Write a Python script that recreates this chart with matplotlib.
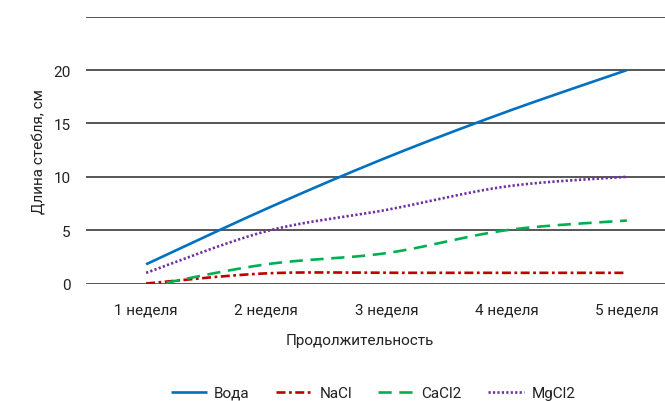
import numpy as np
import matplotlib
matplotlib.use("Agg")
import matplotlib.pyplot as plt
from matplotlib.lines import Line2D

plt.rcParams['font.family'] = ['Roboto', 'DejaVu Sans']
plt.rcParams['lines.scale_dashes'] = False

weeks = ["1 неделя", "2 неделя", "3 неделя", "4 неделя", "5 неделя"]
voda = [1.8, 7.0, 11.8, 16.1, 20.0]
nacl = [0.0, 0.95, 1.0, 1.0, 1.0]
cacl2 = [-0.3, 1.8, 2.85, 5.0, 5.9]
mgcl2 = [1.0, 4.9, 6.9, 9.1, 10.0]

series = [
    ("Вода", voda, "#0070C0", None),
    ("NaCl", nacl, "#C00000", (0, (6.5, 2.5, 2.0, 2.5))),
    ("CaCl2", cacl2, "#00B050", (0, (9.5, 5.5))),
    ("MgCl2", mgcl2, "#7030A0", (0, (1.6, 1.6))),
]


def smooth(xs, ys, n=40):
    """Bezier smoothing through every point (Catmull-Rom style tangents)."""
    p = np.column_stack([xs, ys]).astype(float)
    ext = np.vstack([p[0], p, p[-1]])
    out = []
    t = np.linspace(0, 1, n)[:, None]
    for i in range(len(p) - 1):
        p0, p1 = ext[i + 1], ext[i + 2]
        c1 = p0 + (ext[i + 2] - ext[i]) / 6.0
        c2 = p1 - (ext[i + 3] - ext[i + 1]) / 6.0
        seg = ((1 - t) ** 3) * p0 + 3 * ((1 - t) ** 2) * t * c1 \
            + 3 * (1 - t) * t ** 2 * c2 + t ** 3 * p1
        out.append(seg if i == 0 else seg[1:])
    out = np.vstack(out)
    return out[:, 0], out[:, 1]


fig = plt.figure(figsize=(6.65, 4.02), dpi=100)
ax = fig.add_axes([86 / 665, 117.5 / 402, 601 / 665, 266.75 / 402])

x = np.arange(1, len(weeks) + 1)
handles = []
for name, vals, color, ls in series:
    sx, sy = smooth(x, vals)
    kw = dict(color=color, lw=1.9, solid_capstyle='butt', dash_capstyle='butt')
    if ls is not None:
        kw['linestyle'] = ls
    ax.plot(sx, sy, zorder=3, **kw)
    handles.append(Line2D([], [], label=name, **kw))

ax.set_xlim(0.5, 5.5)
ax.set_ylim(0, 25)
ax.set_yticks([0, 5, 10, 15, 20, 25])
ax.set_yticklabels(["0", "5", "10", "15", "20", ""])
ax.set_xticks(x)
ax.set_xticklabels(weeks)
ax.grid(axis='y', color='#3a3a3a', lw=1.2)
ax.set_axisbelow(True)
for s in ax.spines.values():
    s.set_visible(False)
ax.tick_params(axis='both', length=0, labelsize=11, colors='#222222')
ax.tick_params(axis='y', pad=11)
ax.tick_params(axis='x', pad=14)

ax.set_ylabel("Длина стебля, см", fontsize=11, color='#222222', labelpad=5)
fig.text(360 / 665, 1 - 341 / 402, "Продолжительность", fontsize=11,
         color='#222222', ha='center', va='center')

fig.legend(handles=handles, loc='center', bbox_to_anchor=(373 / 665, 1 - 394 / 402),
           ncol=4, frameon=False, fontsize=11, handlelength=2.4,
           columnspacing=1.7, handletextpad=0.45, labelcolor='#222222')

fig.savefig("out.png", dpi=100)
